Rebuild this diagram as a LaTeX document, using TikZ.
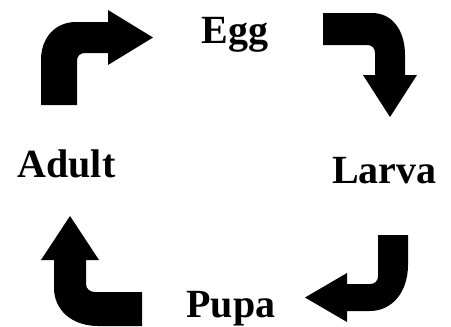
\documentclass[tikz,border=0pt]{standalone}
\usepackage{fontspec}
\setmainfont{Liberation Serif}
\begin{document}
\begin{tikzpicture}[x=1pt, y=-1pt, blk/.style={fill=black},
  every node/.style={font=\bfseries\fontsize{40}{44}\selectfont, anchor=base, inner sep=0pt}]
\useasboundingbox (0,0) rectangle (451,327);
\node (egg) at (235,43) {Egg};
\node (larva) at (384.5,183) {Larva};
\node (pupa) at (231,317) {Pupa};
\node (adult) at (66.5,177) {Adult};
% adult to egg
\fill[blk] (41,105) -- (41,60) .. controls (41,38) and (55,22) .. (76,22) -- (108,22) -- (108,10)
  -- (153,37.5) -- (108,65) -- (108,53) -- (85,53) .. controls (80,53) and (77,56) .. (77,61)
  -- (77,105) -- cycle;
% egg to larva
\fill[blk] (323,13) -- (372,13) .. controls (392,13) and (405,30) .. (405,55) -- (405,75)
  -- (417,75) -- (390,117) -- (363,75) -- (375,75) -- (375,53) .. controls (375,48) and (372,45) .. (367,45)
  -- (323,45) -- cycle;
% larva to pupa
\fill[blk] (378,235) -- (408,235) -- (408,265) .. controls (408,292) and (392,311) .. (370,311)
  -- (347,311) -- (347,322) -- (305,297.5) -- (347,273) -- (347,284) -- (370,284)
  .. controls (375,284) and (378,281) .. (378,276) -- cycle;
% pupa to adult
\fill[blk] (142,292) -- (95,292) .. controls (90,292) and (86,289) .. (86,284) -- (86,260)
  -- (99,260) -- (70,216) -- (41,260) -- (54,260) -- (54,288) .. controls (54,310) and (72,326) .. (98,326)
  -- (142,326) -- cycle;
\end{tikzpicture}
\end{document}
